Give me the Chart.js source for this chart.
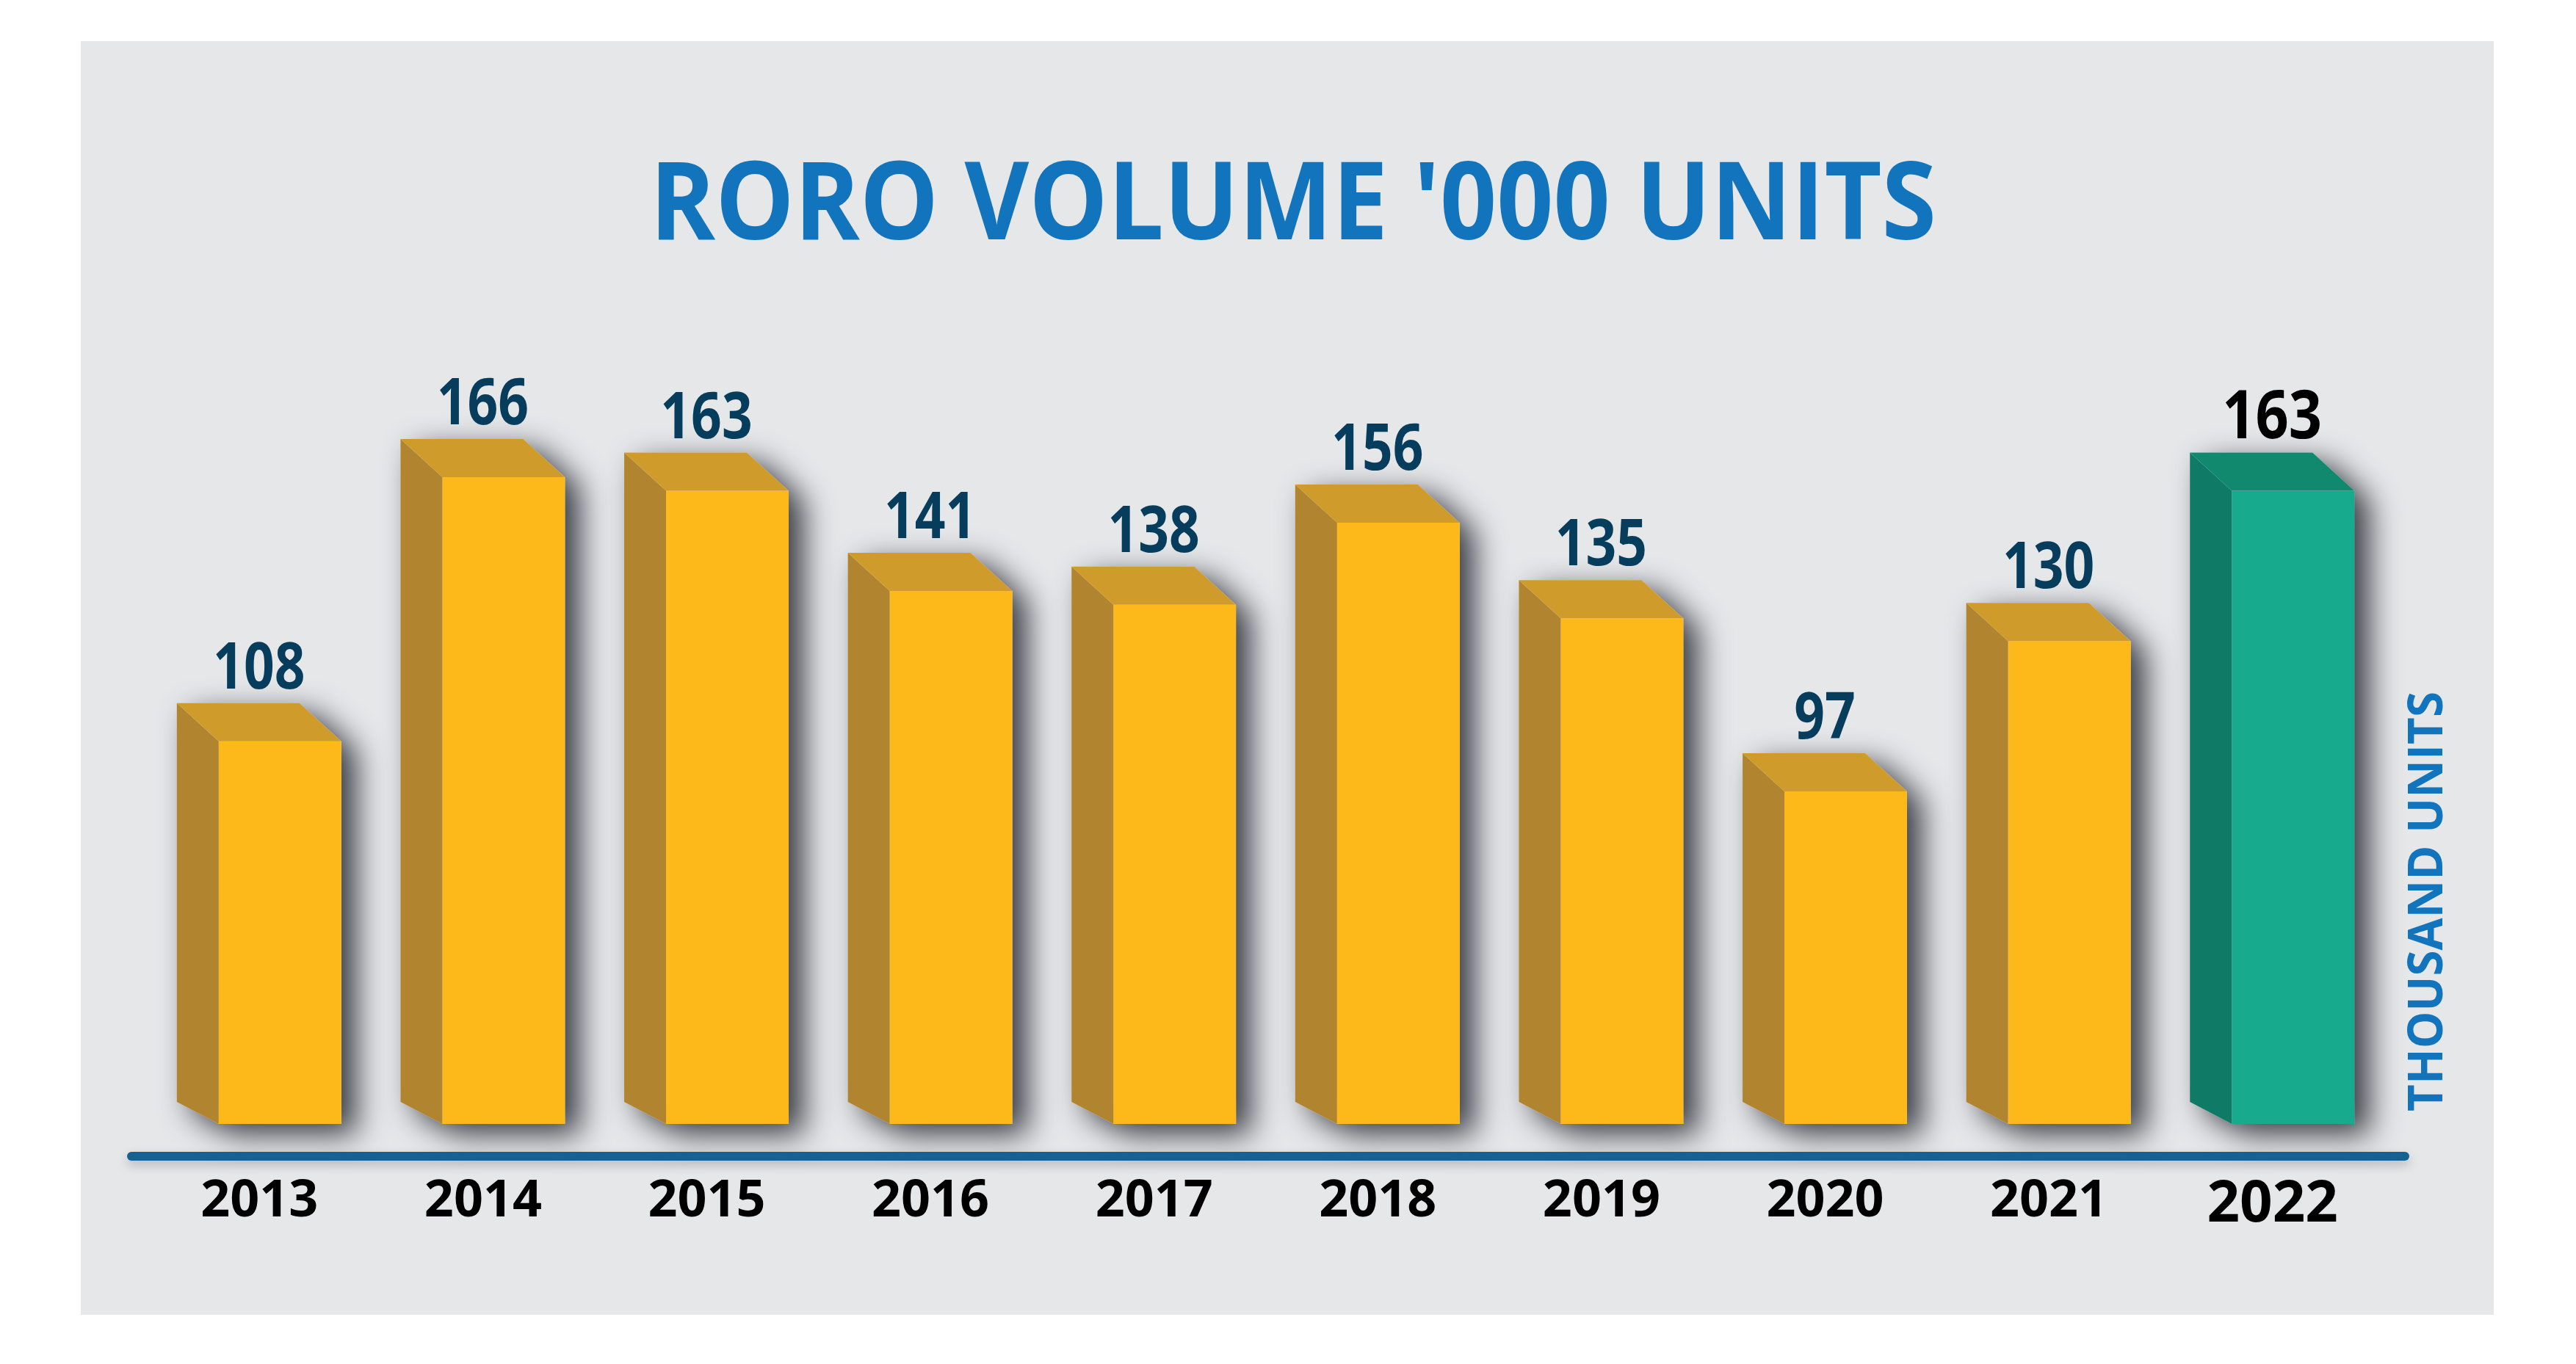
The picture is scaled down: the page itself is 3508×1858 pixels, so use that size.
<!DOCTYPE html>
<html>
<head>
<meta charset="utf-8">
<title>RoRo volume '000 units</title>
<script src="https://cdn.jsdelivr.net/npm/chart.js@4.4.1/dist/chart.umd.min.js"></script>
<style>
html, body { margin: 0; padding: 0; background: #fff; }
canvas { display: block; }
</style>
</head>
<body>
<canvas id="roro" width="3508" height="1858"></canvas>
<script>
const years = ['2013', '2014', '2015', '2016', '2017', '2018', '2019', '2020', '2021', '2022'];
const volumes = [108, 166, 163, 141, 138, 156, 135, 97, 130, 163];
const highlightYear = '2022';
const titleText = "RORO VOLUME '000 UNITS";
const unitText = 'THOUSAND UNITS';
// the infographic is not drawn from zero: bars start at this value
const axisMin = 24, axisMax = 200;

// face colours of the boxes: front / side / top
const yellow = {front: '#fdb91a', side: '#b1852f', top: '#cf9b2b', label: '#073d5c'};
const teal = {front: '#18aa8c', side: '#0f7b66', top: '#11896f', label: '#000000'};
const depthX = 57, depthTop = 52, depthBottom = 30;

function pal(i) {
    return years[i] === highlightYear ? teal : yellow;
}

// draw text centred on x, squeezed (condensed) to the wanted width
function squeezeText(ctx, text, x, y, width) {
    let w = ctx.measureText(text).width;
    ctx.save();
    ctx.translate(x, y);
    ctx.scale(width / w, 1);
    ctx.textAlign = 'center';
    ctx.fillText(text, 0, 0);
    ctx.restore();
}

const panel = {
    id: 'panel',
    beforeDraw(chart) {
        let c = chart.ctx;
        c.save();
        c.fillStyle = '#ffffff';
        c.fillRect(0, 0, chart.width, chart.height);
        c.fillStyle = '#e6e7e9';
        c.fillRect(110, 56, 3286, 1735);

        c.fillStyle = '#1174bc';
        c.textBaseline = 'alphabetic';
        c.font = 'bold 147px "Open Sans"';
        squeezeText(c, titleText, 1761, 326, 1752);

        // vertical unit label, reads bottom to top
        c.translate(3326, 1228);
        c.rotate(-Math.PI / 2);
        c.font = 'bold 67px "Open Sans"';
        squeezeText(c, unitText, 0, 0, 572);
        c.restore();
    }
};

function boxOutline(c, bar) {
    let l = bar.x - bar.width / 2, r = bar.x + bar.width / 2;
    let t = bar.y, b = bar.base;
    c.beginPath();
    c.moveTo(l - depthX, t - depthTop);
    c.lineTo(r - depthX, t - depthTop);
    c.lineTo(r, t);
    c.lineTo(r, b);
    c.lineTo(l, b);
    c.lineTo(l - depthX, b - depthBottom);
    c.closePath();
}

const shadows = {
    id: 'shadows',
    beforeDatasetsDraw(chart) {
        let c = chart.ctx;
        let meta = chart.getDatasetMeta(0);
        c.save();
        c.shadowColor = 'rgba(55, 58, 66, 1)';
        c.shadowBlur = 42;
        c.shadowOffsetX = 20;
        c.shadowOffsetY = 14;
        c.fillStyle = '#e6e7e9';
        meta.data.forEach(bar => {
            boxOutline(c, bar);
            c.fill();
        });
        c.restore();
    }
};

const faces = {
    id: 'faces',
    afterDatasetsDraw(chart) {
        let c = chart.ctx;
        let meta = chart.getDatasetMeta(0);
        let xs = chart.scales.x;
        c.save();

        // axis line (under the labels, over the shadows)
        c.shadowColor = 'rgba(40, 44, 52, 0.25)';
        c.shadowBlur = 14;
        c.shadowOffsetY = 6;
        c.strokeStyle = '#17608f';
        c.lineWidth = 12;
        c.lineCap = 'round';
        c.beginPath();
        c.moveTo(xs.left - 50, xs.top + 44);
        c.lineTo(xs.right, xs.top + 44);
        c.stroke();
        c.shadowColor = 'transparent';

        meta.data.forEach((bar, i) => {
            let p = pal(i);
            let l = bar.x - bar.width / 2, r = bar.x + bar.width / 2;
            let t = bar.y, b = bar.base;
            // side face
            c.fillStyle = p.side;
            c.beginPath();
            c.moveTo(l, t);
            c.lineTo(l - depthX, t - depthTop);
            c.lineTo(l - depthX, b - depthBottom);
            c.lineTo(l, b);
            c.closePath();
            c.fill();
            // top face
            c.fillStyle = p.top;
            c.beginPath();
            c.moveTo(l, t);
            c.lineTo(l - depthX, t - depthTop);
            c.lineTo(r - depthX, t - depthTop);
            c.lineTo(r, t);
            c.closePath();
            c.fill();

            // value above the box
            c.fillStyle = p.label;
            c.textBaseline = 'alphabetic';
            let big = years[i] === highlightYear;
            c.font = 'bold ' + (big ? 92 : 87) + 'px "Open Sans"';
            let txt = String(volumes[i]);
            let w = c.measureText(txt).width * (big ? 0.86 : 0.84);
            squeezeText(c, txt, bar.x - depthX / 2, t - 72, w);
        });
        c.restore();
    }
};

new Chart(document.getElementById('roro'), {
    type: 'bar',
    data: {
        labels: years,
        datasets: [{
            data: volumes,
            base: axisMin,
            backgroundColor: years.map((y, i) => pal(i).front),
            borderWidth: 0,
            barPercentage: 0.548,
            categoryPercentage: 1,
            clip: false
        }]
    },
    options: {
        responsive: false,
        devicePixelRatio: 1,
        animation: false,
        layout: {
            padding: {left: 229, right: 233, top: 439, bottom: 0}
        },
        plugins: {
            legend: {display: false},
            tooltip: {enabled: false},
            title: {display: false}
        },
        scales: {
            y: {display: false, min: axisMin, max: axisMax},
            x: {
                grid: {display: false, drawTicks: false},
                border: {display: false},
                afterFit: s => { s.height = 327; },
                ticks: {
                    padding: 64,
                    labelOffset: -28,
                    color: '#000000',
                    font: ctx => years[ctx.index] === highlightYear
                        ? {family: 'Open Sans', size: 78, weight: 'bold'}
                        : {family: 'Open Sans', size: 70, weight: 'bold'}
                }
            }
        }
    },
    plugins: [panel, shadows, faces]
});
</script>
</body>
</html>
